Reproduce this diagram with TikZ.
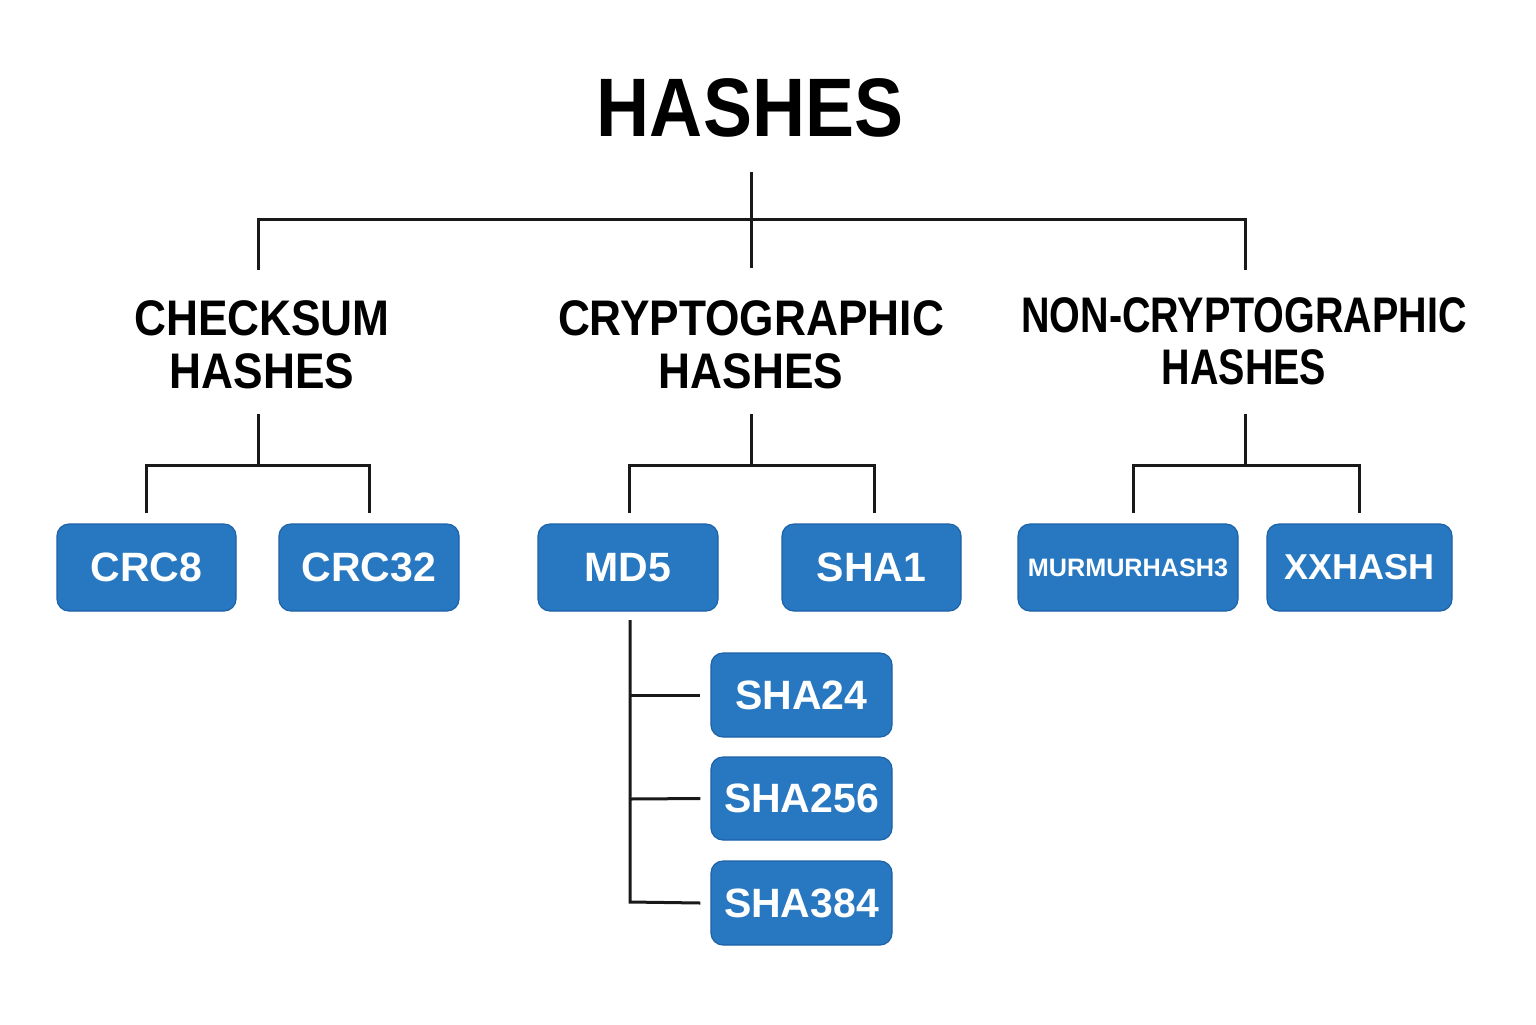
\documentclass[tikz,border=0pt]{standalone}
\usepackage{fontspec}
\setmainfont{Liberation Sans}
\newfontfamily\headfont{Liberation Sans}[FakeStretch=0.885]
\newfontfamily\headfontc{Liberation Sans}[FakeStretch=0.79]
\definecolor{boxblue}{RGB}{40,120,193}
\definecolor{boxedge}{RGB}{28,98,168}
\definecolor{ink}{RGB}{25,25,25}
\begin{document}
\begin{tikzpicture}[x=0.5pt,y=-0.5pt,
  hashbox/.style={fill=boxblue, draw=boxedge, line width=0.6pt, rounded corners=6pt,
    text=white, inner sep=0pt, font=\bfseries\fontsize{20.5}{24}\selectfont,
    minimum height=43.5pt, minimum width=90pt},
  cathead/.style={align=center, inner sep=0pt, font=\headfont\bfseries\fontsize{25}{26.5}\selectfont},
  conn/.style={draw=ink, line width=1.5pt}]
\useasboundingbox (0,0) rectangle (1536,1024);
\fill[white] (0,0) rectangle (1536,1024);

% title and categories
\node[inner sep=0pt, font=\headfont\bfseries\fontsize{41.5}{48}\selectfont] (title) at (750,108) {HASHES};
\node[cathead] (cat1) at (262,344.5) {CHECKSUM\\HASHES};
\node[cathead] (cat2) at (751,344.5) {CRYPTOGRAPHIC\\HASHES};
\node[cathead, font=\headfontc\bfseries\fontsize{25}{26}\selectfont] (cat3) at (1244,341) {NON-CRYPTOGRAPHIC\\HASHES};

% leaf boxes
\node[hashbox, minimum width=89.5pt] (crc8) at (146.5,567.5) {CRC8};
\node[hashbox] (crc32) at (369,567.5) {CRC32};
\node[hashbox] (md5) at (628,567.5) {MD5};
\node[hashbox, minimum width=89.5pt] (sha1) at (871.5,567.5) {SHA1};
\node[hashbox, minimum width=110pt, font=\bfseries\fontsize{12.6}{15}\selectfont] (murmur) at (1128,567.5) {MURMURHASH3};
\node[hashbox, minimum width=92.5pt, font=\bfseries\fontsize{18}{21}\selectfont] (xxhash) at (1359.5,567.5) {XXHASH};
\node[hashbox, minimum width=90.5pt, minimum height=42pt] (sha24) at (801.5,695) {SHA24};
\node[hashbox, minimum width=90.5pt, minimum height=41.5pt] (sha256) at (801.5,798.5) {SHA256};
\node[hashbox, minimum width=90.5pt, minimum height=42pt] (sha384) at (801.5,903) {SHA384};

% junction coordinates
\coordinate (t0) at (751,172);
\coordinate (tj) at (751,219);
\coordinate (c1top) at (258,270);
\coordinate (c2top) at (751,268);
\coordinate (c3top) at (1245,270);
\coordinate (c1bot) at (258,414);
\coordinate (c1j) at (258,465);
\coordinate (c2bot) at (751,414);
\coordinate (c2j) at (751,465);
\coordinate (c3bot) at (1245,414);
\coordinate (c3j) at (1245,465);
\coordinate (m0) at (630,620);
\coordinate (m1) at (630,695);
\coordinate (m2) at (630,799);
\coordinate (m3) at (630,902);

% connectors
\draw[conn] (t0) -- (c2top);
\draw[conn] (c1top) |- (tj) -| (c3top);

\draw[conn] (c1bot) -- (c1j);
\draw[conn] ([yshift=5pt]crc8.north) |- (c1j) -| ([yshift=5pt]crc32.north);
\draw[conn] (c2bot) -- (c2j);
\draw[conn] ([yshift=5pt,xshift=0.5pt]md5.north) |- (c2j) -| ([yshift=5pt,xshift=1.25pt]sha1.north);
\draw[conn] (c3bot) -- (c3j);
\draw[conn] ([yshift=5pt,xshift=2.5pt]murmur.north) |- (c3j) -| ([yshift=5pt]xxhash.north);

\draw[conn] (m0) -- (m3) -- ([xshift=-5pt]sha384.west);
\draw[conn] (m1) -- ([xshift=-5pt]sha24.west);
\draw[conn] (m2) -- ([xshift=-5pt]sha256.west);
\end{tikzpicture}
\end{document}
